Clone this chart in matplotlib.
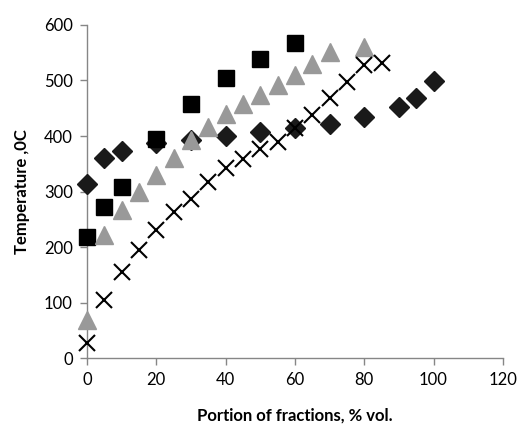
import matplotlib
matplotlib.use("Agg")
import matplotlib.pyplot as plt

# Series data (x: portion of fractions % vol., y: temperature)
dia_x = [0, 5, 10, 20, 30, 40, 50, 60, 70, 80, 90, 95, 100]
dia_y = [313, 360, 373, 387, 393, 400, 407, 414, 421, 434, 452, 468, 499]

sq_x = [0, 5, 10, 20, 30, 40, 50, 60]
sq_y = [218, 272, 308, 395, 457, 504, 538, 568]

tri_x = [0, 5, 10, 15, 20, 25, 30, 35, 40, 45, 50, 55, 60, 65, 70, 80]
tri_y = [68, 222, 267, 300, 330, 360, 393, 417, 439, 458, 474, 492, 510, 530, 551, 560]

crs_x = [0, 5, 10, 15, 20, 25, 30, 35, 40, 45, 50, 55, 60, 65, 70, 75, 80, 85]
crs_y = [27, 105, 155, 195, 231, 264, 287, 318, 342, 358, 377, 390, 414, 438, 468, 498, 528, 531]

x_ticks = [0, 20, 40, 60, 80, 100, 120]
y_ticks = [0, 100, 200, 300, 400, 500, 600]

plt.rcParams['font.family'] = ['Lato', 'DejaVu Sans']

fig = plt.figure(figsize=(5.2, 4.3), dpi=100)
ax = fig.add_axes([0.167, 0.167, 0.8, 0.775])

ax.plot(dia_x, dia_y, linestyle='none', marker='D', ms=10, color='#1a1a1a', zorder=2, clip_on=False)
ax.plot(sq_x, sq_y, linestyle='none', marker='s', ms=11.5, color='black', zorder=3, clip_on=False)
ax.plot(tri_x, tri_y, linestyle='none', marker='^', ms=13, color='#999999', mec='#999999', zorder=4, clip_on=False)
ax.plot(crs_x, crs_y, linestyle='none', marker='x', ms=11, mew=1.5, color='black', zorder=5, clip_on=False)

ax.set_xlim(0, 120)
ax.set_ylim(0, 600)
ax.set_xticks(x_ticks)
ax.set_yticks(y_ticks)
ax.spines['top'].set_visible(False)
ax.spines['right'].set_visible(False)
for s in ['left', 'bottom']:
    ax.spines[s].set_color('#868686')
    ax.spines[s].set_linewidth(1.0)
    ax.spines[s].set_zorder(1)
ax.tick_params(direction='out', length=5, width=1.0, color='#868686', labelsize=12, pad=5)

ax.set_xlabel('Portion of fractions, % vol.', fontsize=12, fontweight='bold', labelpad=14)
ax.set_ylabel('Temperature ,0C', fontsize=12, fontweight='bold', labelpad=10)

fig.savefig('out.png', dpi=100, facecolor='white')
